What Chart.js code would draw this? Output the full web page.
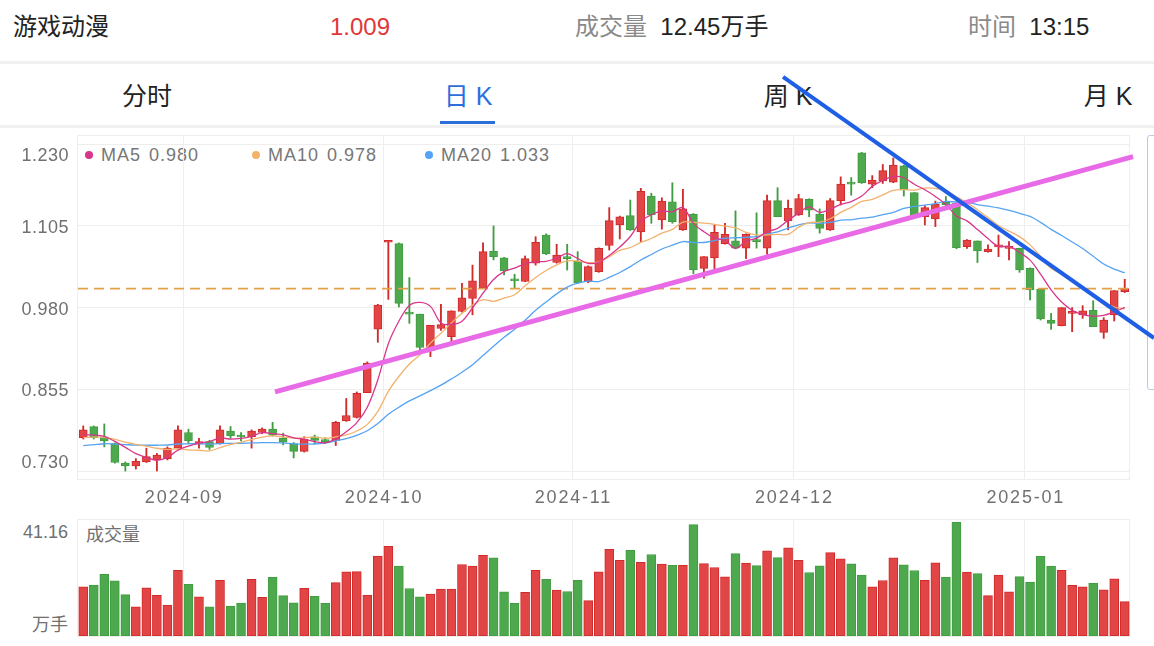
<!DOCTYPE html>
<html lang="zh-CN">
<head>
<meta charset="utf-8">
<title>游戏动漫 日K</title>
<script src="https://cdn.jsdelivr.net/npm/chart.js@4.4.1/dist/chart.umd.min.js"></script>
<style>
  html, body { margin: 0; padding: 0; background: #fff; }
  body {
    width: 1154px; height: 646px; position: relative; overflow: hidden;
    font-family: "Liberation Sans", "Noto Sans CJK SC", sans-serif;
  }
  .t { position: absolute; white-space: nowrap; line-height: 1; }
  .hd { font-size: 24px; top: 15px; color: #222; }
  .gray { color: #8a8a8a; }
  .tab { font-size: 25px; top: 84px; color: #222; transform: translateX(-50%); }
  .tab.on { color: #2a6fdc; }
  .sep { position: absolute; left: 0; width: 1154px; height: 3px; background: #f1f1f1; }
  .lg { font-size: 18px; top: 146px; color: #777; letter-spacing: 1px; }
  .lg i { position: absolute; left: -16px; top: 5px; width: 8px; height: 8px; border-radius: 50%; }
  .lg b { font-weight: normal; margin-left: 8px; }
  .ax { font-size: 18px; color: #707070; }
  .box { position: absolute; }
</style>
</head>
<body>
  <!-- tiêu đề -->
  <div class="t hd" style="left:13px">游戏动漫</div>
  <div class="t hd" id="lastPrice" style="left:330px;color:#e0373a"></div>
  <div class="t hd" style="left:575px"><span class="gray">成交量</span>&nbsp; <span id="lastVol"></span></div>
  <div class="t hd" style="left:968px"><span class="gray">时间</span>&nbsp; 13:15</div>
  <div class="sep" style="top:61px"></div>

  <div class="t tab" style="left:147px">分时</div>
  <div class="t tab on" style="left:468px">日 K</div>
  <div class="t tab" style="left:788px">周 K</div>
  <div class="t tab" style="left:1108px">月 K</div>
  <div style="position:absolute;left:440px;top:121px;width:55px;height:3px;background:#2a6fdc"></div>
  <div class="sep" style="top:125px"></div>

  <div style="position:absolute;left:1147px;top:135px;width:20px;height:253px;border:1px solid #b9cbe8;border-radius:3px"></div>

  <div class="t lg" style="left:101px"><i style="background:#d9368b"></i>MA5<b id="ma5v"></b></div>
  <div class="t lg" style="left:268px"><i style="background:#f2b26d"></i>MA10<b id="ma10v"></b></div>
  <div class="t lg" style="left:441px"><i style="background:#55a3f3"></i>MA20<b id="ma20v"></b></div>

  <div class="t ax" style="right:1086px;top:523px" id="volMax"></div>
  <div class="t ax" style="right:1086px;top:616px">万手</div>
  <div class="t ax" style="left:86px;top:526px">成交量</div>

  <div class="box" style="left:0;top:0;width:1154px;height:520px"><canvas id="kline"></canvas></div>
  <div class="box" style="left:0;top:500px;width:1154px;height:146px"><canvas id="volume"></canvas></div>

<script>
// ---- dữ liệu: ngày giao dịch, OHLC, khối lượng (万手) ----
var tradeDays = {
  '2024-08': [19, 20, 21, 22, 23, 26, 27, 28, 29, 30],
  '2024-09': [2, 3, 4, 5, 6, 9, 10, 11, 12, 13, 18, 19, 20, 23, 24, 25, 26, 27, 30],
  '2024-10': [8, 9, 10, 11, 14, 15, 16, 17, 18, 21, 22, 23, 24, 25, 28, 29, 30, 31],
  '2024-11': [1, 4, 5, 6, 7, 8, 11, 12, 13, 14, 15, 18, 19, 20, 21, 22, 25, 26, 27, 28, 29],
  '2024-12': [2, 3, 4, 5, 6, 9, 10, 11, 12, 13, 16, 17, 18, 19, 20, 23, 24, 25, 26, 27, 30, 31],
  '2025-01': [2, 3, 6, 7, 8, 9, 10, 13, 14, 15]
};

var opens = [
  0.781, 0.798, 0.7825, 0.772, 0.742, 0.738, 0.744, 0.747, 0.749, 0.765,
  0.789, 0.771, 0.775, 0.772, 0.791, 0.785, 0.7825, 0.789, 0.794, 0.780,
  0.772, 0.760, 0.7825, 0.777, 0.777, 0.8065, 0.812, 0.850, 0.947, 1.080,
  1.078, 0.972, 0.970, 0.914, 0.948, 0.9355, 0.974, 0.994, 1.0105, 1.0666,
  1.056, 1.023, 1.020, 1.048, 1.091, 1.049, 1.058, 1.051, 1.0197, 1.035,
  1.075, 1.1064, 1.1207, 1.096, 1.1507, 1.114, 1.142, 1.099, 1.1227, 1.040,
  1.056, 1.078, 1.082, 1.071, 1.083, 1.071, 1.1436, 1.1125, 1.1217, 1.1457,
  1.123, 1.099, 1.1436, 1.172, 1.217, 1.169, 1.174, 1.172, 1.197, 1.156,
  1.119, 1.1156, 1.142, 1.1395, 1.0732, 1.082, 1.0656, 1.073, 1.0707, 1.0707,
  1.040, 1.0085, 0.961, 0.9524, 0.9712, 0.9687, 0.9763, 0.9422, 0.9687, 1.0044
];
var highs = [
  0.799, 0.799, 0.802, 0.773, 0.744, 0.749, 0.765, 0.757, 0.767, 0.799,
  0.794, 0.780, 0.777, 0.799, 0.798, 0.789, 0.793, 0.796, 0.8045, 0.788,
  0.7735, 0.7825, 0.785, 0.781, 0.806, 0.841, 0.851, 0.897, 0.985, 1.0815,
  1.079, 1.026, 0.970, 0.953, 0.985, 0.975, 1.017, 1.045, 1.079, 1.105,
  1.057, 1.031, 1.059, 1.0885, 1.093, 1.077, 1.077, 1.0656, 1.044, 1.0715,
  1.133, 1.120, 1.1446, 1.1625, 1.155, 1.148, 1.171, 1.161, 1.124, 1.058,
  1.106, 1.109, 1.128, 1.093, 1.125, 1.152, 1.1635, 1.1446, 1.1533, 1.1465,
  1.131, 1.147, 1.180, 1.179, 1.2175, 1.182, 1.199, 1.209, 1.198, 1.156,
  1.136, 1.143, 1.150, 1.142, 1.084, 1.082, 1.076, 1.091, 1.081, 1.071,
  1.041, 1.009, 0.9712, 0.980, 0.980, 0.983, 0.9906, 0.9646, 1.006, 1.0233
];
var lows = [
  0.779, 0.779, 0.767, 0.742, 0.730, 0.733, 0.743, 0.730, 0.747, 0.764,
  0.772, 0.765, 0.763, 0.771, 0.780, 0.776, 0.765, 0.787, 0.7835, 0.770,
  0.750, 0.759, 0.772, 0.772, 0.769, 0.806, 0.811, 0.850, 0.927, 0.9926,
  0.981, 0.956, 0.914, 0.905, 0.945, 0.927, 0.973, 0.969, 1.009, 1.053,
  1.030, 1.0095, 1.0197, 1.045, 1.061, 1.048, 1.0375, 1.017, 1.018, 1.034,
  1.068, 1.085, 1.098, 1.081, 1.109, 1.100, 1.109, 1.098, 1.032, 1.025,
  1.0375, 1.077, 1.070, 1.055, 1.071, 1.0615, 1.119, 1.099, 1.121, 1.119,
  1.094, 1.098, 1.137, 1.152, 1.170, 1.1635, 1.170, 1.171, 1.1507, 1.120,
  1.1064, 1.104, 1.135, 1.070, 1.0707, 1.049, 1.065, 1.058, 1.0528, 1.034,
  0.9916, 0.961, 0.9467, 0.952, 0.9432, 0.9636, 0.951, 0.933, 0.9595, 1.003
];
var closes = [
  0.793, 0.781, 0.776, 0.743, 0.738, 0.745, 0.752, 0.7545, 0.765, 0.793,
  0.776, 0.775, 0.766, 0.793, 0.784, 0.782, 0.791, 0.794, 0.785, 0.774,
  0.760, 0.779, 0.777, 0.775, 0.8045, 0.815, 0.849, 0.895, 0.984, 1.081,
  0.9865, 0.970, 0.919, 0.953, 0.954, 0.975, 0.995, 1.021, 1.0656, 1.058,
  1.036, 1.021, 1.055, 1.080, 1.062, 1.0605, 1.055, 1.018, 1.0426, 1.0707,
  1.113, 1.119, 1.0988, 1.158, 1.1217, 1.143, 1.1115, 1.131, 1.0375, 1.058,
  1.095, 1.092, 1.071, 1.092, 1.081, 1.1436, 1.119, 1.132, 1.147, 1.129,
  1.101, 1.1436, 1.169, 1.169, 1.171, 1.175, 1.1895, 1.198, 1.160, 1.121,
  1.133, 1.1385, 1.137, 1.0717, 1.0834, 1.0666, 1.0697, 1.0758, 1.0732, 1.0375,
  1.0069, 0.9626, 0.9559, 0.9799, 0.9738, 0.975, 0.951, 0.961, 1.0059, 1.009
];
// 19 phiên trước khung hình (ước lượng từ điểm đầu các đường MA)
var preCloses = [
  0.750, 0.748, 0.752, 0.755, 0.760, 0.757, 0.754, 0.758, 0.762, 0.770,
  0.772, 0.779, 0.775, 0.780, 0.778, 0.781, 0.786, 0.782, 0.7838
];
var volumes = [
  17.8, 18.4, 22.3, 20.0, 15.0, 10.6, 17.4, 14.7, 11.2, 23.8,
  18.7, 14.2, 10.6, 20.2, 10.8, 11.9, 20.5, 14.0, 21.2, 14.6,
  12.0, 17.3, 14.4, 11.8, 19.3, 23.2, 23.3, 14.7, 28.9, 32.5,
  25.3, 17.2, 14.2, 15.2, 17.0, 17.0, 25.9, 25.3, 29.2, 28.3,
  16.0, 11.8, 15.8, 23.8, 20.5, 16.6, 16.1, 20.2, 12.8, 23.2,
  31.4, 27.4, 31.0, 26.7, 29.5, 26.0, 25.6, 25.6, 40.3, 26.2,
  24.8, 21.4, 29.8, 26.4, 25.5, 30.8, 28.4, 31.9, 27.4, 23.0,
  25.4, 30.2, 27.9, 26.1, 22.1, 17.8, 20.1, 28.3, 25.8, 23.7,
  20.2, 26.5, 21.3, 41.16, 23.1, 22.6, 14.6, 22.1, 16.0, 21.5,
  19.5, 28.8, 25.3, 23.8, 18.3, 17.8, 19.1, 16.7, 20.7, 12.45
];
var priceTicks = [0.730, 0.855, 0.980, 1.105, 1.230];
// đường xu hướng vẽ tay: [chỉ số phiên, giá]
var trendUp = [[18.23, 0.851], [99.79, 1.211]];
var trendDown = [[66.52, 1.333], [101.78, 0.9335]];

(function () {
  'use strict';

  var RED = '#e24545', RED_EDGE = '#d02a2a';
  var GREEN = '#4ea84e', GREEN_EDGE = '#419d41';
  var GRID = '#eeeeee';

  // ---- 1. nhãn ngày + vị trí đầu tháng ----
  var labels = [];
  Object.keys(tradeDays).forEach(function (m) {
    tradeDays[m].forEach(function (d) { labels.push(m + '-' + (d < 10 ? '0' + d : d)); });
  });
  var monthStarts = [];
  labels.forEach(function (l, i) {
    if (i > 0 && l.slice(0, 7) !== labels[i - 1].slice(0, 7)) monthStarts.push(i);
  });

  // ---- 2. MA ----
  function movingAvg(n) {
    var all = preCloses.concat(closes);
    return closes.map(function (_, i) {
      var j = i + preCloses.length, s = 0;
      for (var k = j - n + 1; k <= j; k++) s += all[k];
      return s / n;
    });
  }
  var ma5 = movingAvg(5), ma10 = movingAvg(10), ma20 = movingAvg(20);
  var last = closes.length - 1;

  document.getElementById('ma5v').textContent = ma5[last].toFixed(3);
  document.getElementById('ma10v').textContent = ma10[last].toFixed(3);
  document.getElementById('ma20v').textContent = ma20[last].toFixed(3);
  document.getElementById('lastPrice').textContent = closes[last].toFixed(3);
  document.getElementById('lastVol').textContent = volumes[last].toFixed(2) + '万手';
  document.getElementById('volMax').textContent = Math.max.apply(null, volumes).toFixed(2);

  var isUp = closes.map(function (c, i) { return c >= opens[i]; });
  var fill = isUp.map(function (u) { return u ? RED : GREEN; });
  var edge = isUp.map(function (u) { return u ? RED_EDGE : GREEN_EDGE; });

  function monthGrid(ctx) {
    return monthStarts.indexOf(ctx.index) >= 0 ? GRID : 'rgba(0,0,0,0)';
  }
  function toXY(p) { return { x: p[0], y: p[1] }; }

  // khung + nhãn trục tự vẽ (nhãn đầu/cuối lệch vào trong như app)
  var frameText = {
    id: 'frameText',
    beforeDatasetsDraw: function (chart) {
      var a = chart.chartArea, c = chart.ctx;
      c.save();
      c.strokeStyle = GRID;
      c.lineWidth = 1;
      c.strokeRect(a.left - 0.5, a.top + 0.5, a.right - a.left, a.bottom - a.top);
      c.restore();
    },
    afterDraw: function (chart) {
      if (chart.canvas.id !== 'kline') return;
      var c = chart.ctx, ys = chart.scales.y, xs = chart.scales.x;
      c.save();
      c.fillStyle = '#707070';
      c.font = '18px "Liberation Sans", sans-serif';
      c.textBaseline = 'middle';
      c.textAlign = 'right';
      if ('letterSpacing' in c) c.letterSpacing = '0.5px';
      priceTicks.forEach(function (v, k) {
        var dy = k === 0 ? -8 : (k === priceTicks.length - 1 ? 12 : 2);
        c.fillText(v.toFixed(3), 69, ys.getPixelForValue(v) + dy);
      });
      c.textAlign = 'center';
      if ('letterSpacing' in c) c.letterSpacing = '1.8px';
      monthStarts.forEach(function (i) {
        var px = (xs.getPixelForValue(i) + xs.getPixelForValue(i - 1)) / 2;
        c.fillText(labels[i].slice(0, 7), px + 1, chart.chartArea.bottom + 19);
      });
      c.restore();
    }
  };

  Chart.defaults.font.family = '"Liberation Sans", "Noto Sans CJK SC", sans-serif';

  // ---- 3. biểu đồ nến ----
  new Chart(document.getElementById('kline'), {
    type: 'bar',
    data: {
      labels: labels,
      datasets: [
        {
          type: 'line', xAxisID: 'xl', data: trendDown.map(toXY),
          borderColor: '#1e5fe5', borderWidth: 4, pointRadius: 0, clip: false, order: 0
        },
        {
          type: 'line', xAxisID: 'xl', data: trendUp.map(toXY),
          borderColor: '#e86ae6', borderWidth: 5, pointRadius: 0, clip: false, order: 0
        },
        { type: 'line', label: 'MA5', data: ma5, borderColor: '#d9368b', borderWidth: 1.3, pointRadius: 0, tension: 0.35, order: 1 },
        { type: 'line', label: 'MA10', data: ma10, borderColor: '#f2b26d', borderWidth: 1.3, pointRadius: 0, tension: 0.35, order: 1 },
        { type: 'line', label: 'MA20', data: ma20, borderColor: '#55a3f3', borderWidth: 1.3, pointRadius: 0, tension: 0.35, order: 1 },
        {
          type: 'line', xAxisID: 'xl',
          data: [{ x: -0.5, y: closes[last] }, { x: labels.length - 0.5, y: closes[last] }],
          borderColor: '#e3a048', borderWidth: 1.6, borderDash: [10, 6], pointRadius: 0, order: 2
        },
        {
          label: 'body',
          data: opens.map(function (o, i) { return [o, closes[i]]; }),
          backgroundColor: fill, borderColor: edge, borderWidth: 1, borderSkipped: false,
          barThickness: 8, minBarLength: 2, grouped: false, order: 3
        },
        {
          label: 'wick',
          data: lows.map(function (l, i) { return [l, highs[i]]; }),
          backgroundColor: edge, barThickness: 1.2, grouped: false, order: 4
        }
      ]
    },
    options: {
      responsive: true,
      maintainAspectRatio: false,
      animation: false,
      layout: { padding: { top: 135, right: 24, bottom: 1, left: 0 } },
      plugins: { legend: { display: false }, tooltip: { enabled: false } },
      scales: {
        x: {
          type: 'category', offset: true,
          grid: { offset: true, color: monthGrid, drawTicks: false },
          border: { display: false },
          ticks: { display: false, autoSkip: false },
          afterFit: function (s) { s.height = 40; }
        },
        xl: {
          type: 'linear', display: false, offset: false, grace: 0,
          min: -0.5, max: labels.length - 0.5
        },
        y: {
          min: 0.7178, max: 1.2441,
          afterBuildTicks: function (s) { s.ticks = priceTicks.map(function (v) { return { value: v }; }); },
          grid: { color: GRID, drawTicks: false },
          border: { display: false },
          ticks: { display: false },
          afterFit: function (s) { s.width = 78; }
        }
      }
    },
    plugins: [frameText]
  });

  // ---- 4. khối lượng ----
  new Chart(document.getElementById('volume'), {
    type: 'bar',
    data: {
      labels: labels,
      datasets: [{
        data: volumes,
        backgroundColor: fill, borderColor: edge, borderWidth: 1, borderSkipped: false,
        barThickness: 9
      }]
    },
    options: {
      responsive: true,
      maintainAspectRatio: false,
      animation: false,
      layout: { padding: { top: 19, right: 24, bottom: 10, left: 0 } },
      plugins: { legend: { display: false }, tooltip: { enabled: false } },
      scales: {
        x: {
          offset: true,
          grid: { offset: true, color: monthGrid, drawTicks: false },
          border: { display: false },
          ticks: { display: false, autoSkip: false },
          afterFit: function (s) { s.height = 0; }
        },
        y: {
          min: 0, max: 42.36,
          grid: { display: false },
          border: { display: false },
          ticks: { display: false },
          afterFit: function (s) { s.width = 78; }
        }
      }
    },
    plugins: [frameText]
  });
})();
</script>
</body>
</html>
